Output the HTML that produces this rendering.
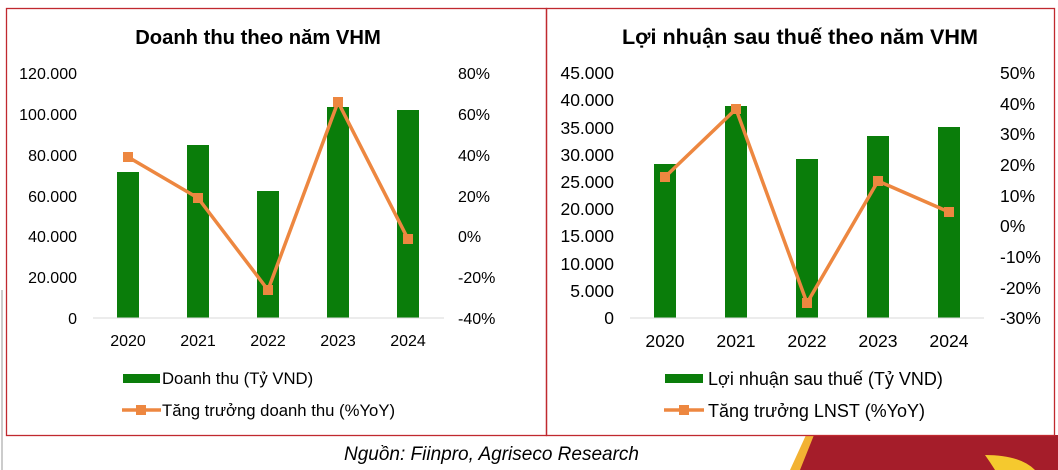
<!DOCTYPE html>
<html><head><meta charset="utf-8"><style>
html,body{margin:0;padding:0;background:#fff;}
svg{display:block;font-family:"Liberation Sans",Arial,sans-serif;}
</style></head><body>
<svg width="1058" height="470" viewBox="0 0 1058 470" xmlns="http://www.w3.org/2000/svg">
<rect width="1058" height="470" fill="#fff"/>
<!-- decoration -->
<path d="M806,435 L1058,435 L1058,470 L790,470 Z" fill="#f2b233"/>
<path d="M814,435 L1058,435 L1058,470 L800,470 Z" fill="#a51d2a"/>
<path d="M985,455 Q1020,455 1035,470 L995,470 Q990,462 985,455 Z" fill="#f5c92e"/>
<line x1="2" y1="290" x2="2" y2="470" stroke="#999" stroke-width="1"/>
<!-- panels -->
<rect x="6.5" y="8.5" width="540" height="427" fill="none" stroke="#c0292f" stroke-width="1.3"/>
<rect x="546.5" y="8.5" width="508" height="427" fill="none" stroke="#c0292f" stroke-width="1.3"/>

<!-- LEFT -->
<text x="258" y="44" text-anchor="middle" font-size="20.2" font-weight="bold">Doanh thu theo năm VHM</text>
<g font-size="16" fill="#000" text-anchor="end">
<text x="77" y="79">120.000</text><text x="77" y="120">100.000</text><text x="77" y="161">80.000</text>
<text x="77" y="202">60.000</text><text x="77" y="242">40.000</text><text x="77" y="283">20.000</text><text x="77" y="324">0</text>
</g>
<g font-size="16" text-anchor="start">
<text x="458" y="79">80%</text><text x="458" y="120">60%</text><text x="458" y="161">40%</text>
<text x="458" y="202">20%</text><text x="458" y="242">0%</text><text x="458" y="283">-20%</text><text x="458" y="324">-40%</text>
</g>
<g fill="#0a7d0a">
<rect x="117" y="172" width="22" height="146"/><rect x="187" y="145" width="22" height="173"/>
<rect x="257" y="191" width="22" height="127"/><rect x="327" y="107" width="22" height="211"/>
<rect x="397" y="110" width="22" height="208"/>
</g>
<line x1="93" y1="318" x2="444" y2="318" stroke="#d9d9d9" stroke-width="1"/>
<polyline points="128,157 198,198 268,290 338,102 408,239" fill="none" stroke="#ed8740" stroke-width="3.5" stroke-linejoin="round"/>
<g fill="#ed8740">
<rect x="123" y="152" width="10" height="10"/><rect x="193" y="193" width="10" height="10"/>
<rect x="263" y="285" width="10" height="10"/><rect x="333" y="97" width="10" height="10"/><rect x="403" y="234" width="10" height="10"/>
</g>
<g font-size="16" text-anchor="middle">
<text x="128" y="346">2020</text><text x="198" y="346">2021</text><text x="268" y="346">2022</text><text x="338" y="346">2023</text><text x="408" y="346">2024</text>
</g>
<rect x="123" y="374" width="37" height="9" fill="#0a7d0a"/>
<text x="162" y="384" font-size="16.7">Doanh thu (Tỷ VND)</text>
<line x1="122" y1="410" x2="161" y2="410" stroke="#ed8740" stroke-width="3.5"/>
<rect x="136" y="405" width="10" height="10" fill="#ed8740"/>
<text x="162" y="416" font-size="16.7">Tăng trưởng doanh thu (%YoY)</text>

<!-- RIGHT -->
<text x="800" y="44" text-anchor="middle" font-size="21.6" font-weight="bold">Lợi nhuận sau thuế theo năm VHM</text>
<g font-size="17.5" text-anchor="end">
<text x="614" y="79">45.000</text><text x="614" y="106">40.000</text><text x="614" y="134">35.000</text>
<text x="614" y="161">30.000</text><text x="614" y="188">25.000</text><text x="614" y="215">20.000</text>
<text x="614" y="242">15.000</text><text x="614" y="270">10.000</text><text x="614" y="297">5.000</text><text x="614" y="324">0</text>
</g>
<g font-size="17.5">
<text x="1000" y="79">50%</text><text x="1000" y="110">40%</text><text x="1000" y="140">30%</text>
<text x="1000" y="171">20%</text><text x="1000" y="202">10%</text><text x="1000" y="232">0%</text>
<text x="1000" y="263">-10%</text><text x="1000" y="294">-20%</text><text x="1000" y="324">-30%</text>
</g>
<g fill="#0a7d0a">
<rect x="654" y="164" width="22" height="154"/><rect x="725" y="106" width="22" height="212"/>
<rect x="796" y="159" width="22" height="159"/><rect x="867" y="136" width="22" height="182"/>
<rect x="938" y="127" width="22" height="191"/>
</g>
<line x1="630" y1="318" x2="984" y2="318" stroke="#d9d9d9" stroke-width="1"/>
<polyline points="665,177 736,109 807,303 878,181 949,212" fill="none" stroke="#ed8740" stroke-width="3.5" stroke-linejoin="round"/>
<g fill="#ed8740">
<rect x="660" y="172" width="10" height="10"/><rect x="731" y="104" width="10" height="10"/>
<rect x="802" y="298" width="10" height="10"/><rect x="873" y="176" width="10" height="10"/><rect x="944" y="207" width="10" height="10"/>
</g>
<g font-size="17.6" text-anchor="middle">
<text x="665" y="347">2020</text><text x="736" y="347">2021</text><text x="807" y="347">2022</text><text x="878" y="347">2023</text><text x="949" y="347">2024</text>
</g>
<rect x="665" y="374" width="38" height="9" fill="#0a7d0a"/>
<text x="708" y="385" font-size="18">Lợi nhuận sau thuế (Tỷ VND)</text>
<line x1="664" y1="410" x2="704" y2="410" stroke="#ed8740" stroke-width="3.5"/>
<rect x="679" y="405" width="10" height="10" fill="#ed8740"/>
<text x="708" y="417" font-size="18">Tăng trưởng LNST (%YoY)</text>

<text x="344" y="460" font-size="19" font-style="italic">Nguồn: Fiinpro, Agriseco Research</text>
</svg>
</body></html>
